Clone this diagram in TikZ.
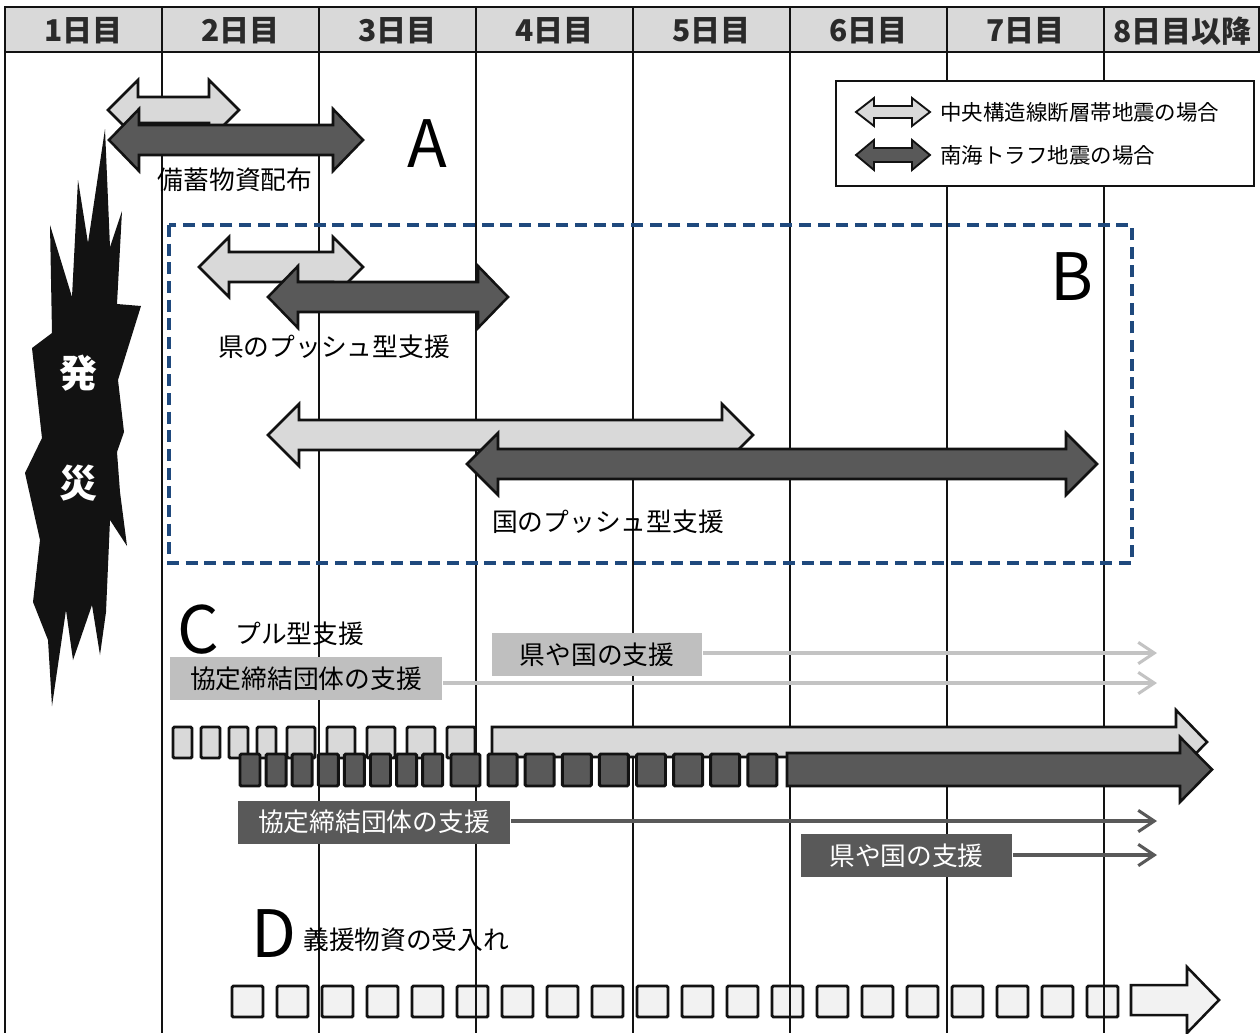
\documentclass[tikz,border=0pt]{standalone}
\usepackage{fontspec}
\setmainfont{Noto Sans CJK JP}
\usetikzlibrary{arrows.meta}

\definecolor{gris}{HTML}{D9D9D9}
\definecolor{grisclaro}{HTML}{F2F2F2}
\definecolor{grisetiq}{HTML}{BFBFBF}
\definecolor{grislinea}{HTML}{C3C3C3}
\definecolor{grisoscuro}{HTML}{595959}
\definecolor{azul}{HTML}{1F497D}
\definecolor{negro}{HTML}{121212}

% doble flecha: x izq, x der, y, media punta, medio cuerpo, largo punta, relleno
\newcommand{\dobleflecha}[7]{%
  \filldraw[fill=#7] (#1,#3) -- (#1+#6,#3-#4) -- (#1+#6,#3-#5) -- (#2-#6,#3-#5)
    -- (#2-#6,#3-#4) -- (#2,#3) -- (#2-#6,#3+#4) -- (#2-#6,#3+#5)
    -- (#1+#6,#3+#5) -- (#1+#6,#3+#4) -- cycle;}
% flecha simple: x izq, x base, x punta, y, medio cuerpo, media punta, relleno
\newcommand{\flechauna}[7]{%
  \filldraw[fill=#7] (#1,#4-#5) -- (#2,#4-#5) -- (#2,#4-#6) -- (#3,#4)
    -- (#2,#4+#6) -- (#2,#4+#5) -- (#1,#4+#5) -- cycle;}

\begin{document}
\begin{tikzpicture}[x=0.75pt, y=-0.75pt, line width=1.9pt, draw=negro,
  dia/.style={font=\fontsize{22.5}{24}\selectfont\bfseries, text=negro!90, inner sep=0pt},
  etiq/.style={font=\fontsize{19.3}{21}\selectfont, inner sep=0pt},
  leyenda/.style={font=\fontsize{16.1}{18}\selectfont, inner sep=0pt, anchor=west},
  letra/.style={font=\fontsize{49}{52}\selectfont, inner sep=0pt},
  caja/.style={font=\fontsize{19.3}{21}\selectfont, inner sep=0pt, minimum height=32.25pt},
  cajaclara/.style={caja, fill=grisetiq},
  cajaoscura/.style={caja, fill=grisoscuro, text=white},
  cuadro/.style={line width=2.2pt, rounded corners=1pt},
  lineaclara/.style={draw=grislinea, line width=2.3pt, -{Straight Barb[length=12pt, width=16pt]}},
  lineaoscura/.style={draw=grisoscuro, line width=2.3pt, -{Straight Barb[length=12pt, width=16pt]}}]
  \useasboundingbox (0,0) rectangle (1260,1033);

  % los cuadros del reparto de donaciones, debajo de las rayas
  \foreach \i in {0,...,19} {
    \filldraw[fill=grisclaro, cuadro] (232+45*\i,986) rectangle (263+45*\i,1017);
  }

  % la cabecera y las columnas de los dias
  \filldraw[fill=gris, line width=1.5pt] (5,7) rectangle (1259,52);
  \foreach \x in {5,162,319,476,633,790,947,1104} {
    \draw[line width=1.5pt] (\x,7) -- (\x,1033);
  }
  \foreach \t [count=\i from 0] in {1日目,2日目,3日目,4日目,5日目,6日目,7日目,8日目以降} {
    \node[dia] (dia\i) at (83.5+157*\i,31) {\t};
  }

  % la explosion del principio
  \fill[negro] (105,129) -- (110,247) -- (122,211) -- (117,304) -- (141,306) -- (118,380)
    -- (124,432) -- (117,452) -- (120,492) -- (127,546) -- (110,520) -- (106,612)
    -- (100,655) -- (92,605) -- (80,640) -- (73,660) -- (66,610) -- (52,706)
    -- (48,640) -- (33,602) -- (40,540) -- (25,473) -- (42,438) -- (32,348)
    -- (52,333) -- (50,225) -- (72,297) -- (78,180) -- (88,243) -- cycle;
  \node[text=white, font=\fontsize{28.5}{30}\selectfont\bfseries] (hatsu) at (78,373) {発};
  \node[text=white, font=\fontsize{28.5}{30}\selectfont\bfseries] (sai) at (78,483) {災};

  % A
  \dobleflecha{108}{239}{110}{30}{13}{30}{gris}
  \dobleflecha{109}{363}{140}{31}{15}{30}{grisoscuro}
  \node[letra] (letraA) at (427,144) {A};
  \node[etiq] (bichiku) at (235,180) {備蓄物資配布};

  % la leyenda
  \filldraw[fill=white, line width=1.5pt] (836,81) rectangle (1254,186);
  \begin{scope}[line width=1.4pt]
    \dobleflecha{856}{930}{112}{14}{6}{18}{gris}
    \dobleflecha{856}{930}{155}{15}{7}{18}{grisoscuro}
  \end{scope}
  \node[leyenda] (ley1) at (939,112) {中央構造線断層帯地震の場合};
  \node[leyenda] (ley2) at (939,155) {南海トラフ地震の場合};

  % B, dentro del recuadro azul
  \draw[azul, line width=2.3pt, dash pattern=on 9pt off 5pt] (169,225) rectangle (1132,563);
  \node[letra] (letraB) at (1072,277) {B};
  \dobleflecha{199}{363}{267}{30}{15}{30}{gris}
  \dobleflecha{268}{508}{297}{31}{15}{30}{grisoscuro}
  \node[etiq] (ken) at (334,347) {県のプッシュ型支援};
  \dobleflecha{268}{753}{435}{31}{15}{31}{gris}
  \dobleflecha{467}{1097}{464}{31}{15}{31}{grisoscuro}
  \node[etiq] (kuni) at (608,522) {国のプッシュ型支援};

  % C, con sus etiquetas y flechitas
  \node[letra] (letraC) at (198,630) {C};
  \node[etiq, anchor=west] (pull) at (234,634) {プル型支援};
  \node[cajaclara, minimum width=204pt] (claro1) at (306,678.5) {協定締結団体の支援};
  \node[cajaclara, minimum width=157.5pt] (claro2) at (597,654.5) {県や国の支援};
  \coordinate (finclaro1) at (1157,683);
  \coordinate (finclaro2) at (1157,653);
  \draw[lineaclara] (claro1.east |- finclaro1) -- (finclaro1);
  \draw[lineaclara] (claro2.east |- finclaro2) -- (finclaro2);

  % los cuadros claros y su flecha
  \foreach \i in {0,...,3} {
    \filldraw[fill=gris, cuadro] (173+28*\i,727) rectangle (192+28*\i,758);
  }
  \foreach \i in {0,...,4} {
    \filldraw[fill=gris, cuadro] (287+40*\i,727) rectangle (315+40*\i,758);
  }
  \flechauna{492}{1176}{1207}{742}{15}{32}{gris}
  % los cuadros oscuros y su flecha
  \foreach \i in {0,...,7} {
    \filldraw[fill=grisoscuro, cuadro] (240+26.1*\i,754) rectangle (260+26.1*\i,786);
  }
  \foreach \i in {0,...,8} {
    \filldraw[fill=grisoscuro, cuadro] (451+37.1*\i,754) rectangle (480+37.1*\i,786);
  }
  \flechauna{787}{1180}{1212}{769.5}{16.5}{32.5}{grisoscuro}

  \node[cajaoscura, minimum width=204pt] (oscuro1) at (374,822) {協定締結団体の支援};
  \node[cajaoscura, minimum width=158pt] (oscuro2) at (906.5,855.5) {県や国の支援};
  \coordinate (finoscuro1) at (1157,821);
  \coordinate (finoscuro2) at (1157,855);
  \draw[lineaoscura] (oscuro1.east |- finoscuro1) -- (finoscuro1);
  \draw[lineaoscura] (oscuro2.east |- finoscuro2) -- (finoscuro2);

  % D
  \node[letra] (letraD) at (274,934) {D};
  \node[etiq, anchor=west] (gien) at (302,940) {義援物資の受入れ};
  \flechauna{1131}{1187}{1219}{1000}{15}{33}{grisclaro}
\end{tikzpicture}
\end{document}
